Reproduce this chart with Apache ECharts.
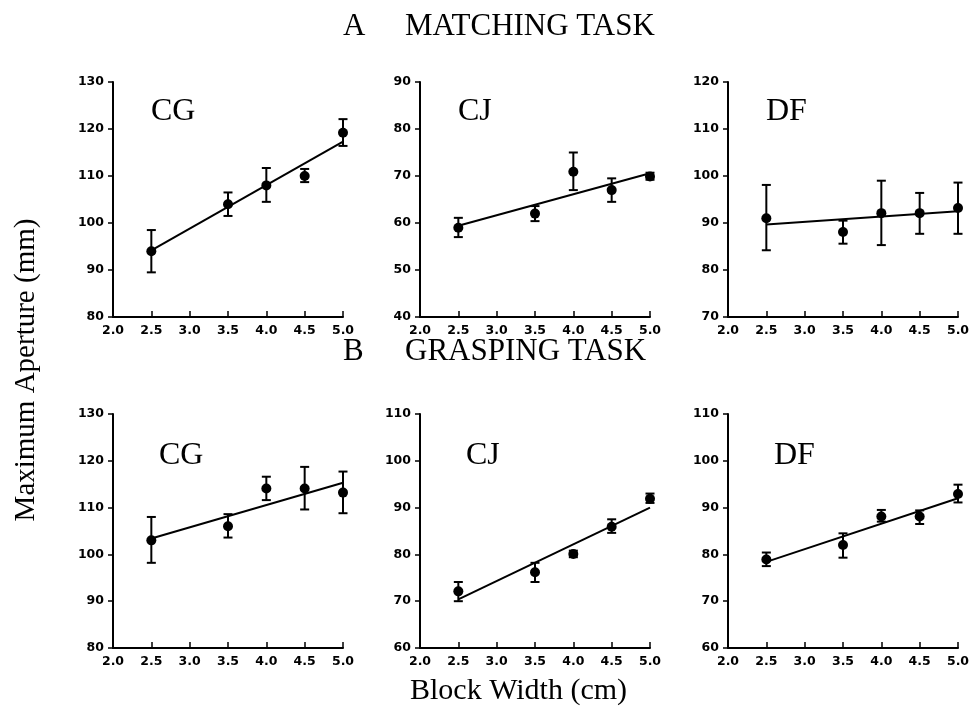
<!DOCTYPE html>
<html><head><meta charset="utf-8">
<script src="https://cdn.jsdelivr.net/npm/echarts@6/dist/echarts.min.js"></script>
<style>html,body{margin:0;padding:0;background:#fff}#c{width:979px;height:721px}</style>
</head><body><div id="c"></div>
<script>
// ---- data ----
const blockWidths = [2.5, 3.5, 4.0, 4.5, 5.0];
const fitX = [2.5, 5.0];

const matchCG_mean = [94, 104, 108, 110, 119.2];
const matchCG_lo   = [89.5, 101.5, 104.5, 108.7, 116.4];
const matchCG_hi   = [98.5, 106.5, 111.7, 111.5, 122.1];
const matchCG_fit  = [94.2, 117.3];

const matchCJ_mean = [59, 62, 70.9, 67, 69.9];
const matchCJ_lo   = [57, 60.4, 67, 64.5, 69.2];
const matchCJ_hi   = [61.1, 63.6, 75, 69.5, 70.7];
const matchCJ_fit  = [59.4, 70.6];

const matchDF_mean = [91, 88.1, 92.1, 92.1, 93.2];
const matchDF_lo   = [84.2, 85.6, 85.3, 87.7, 87.7];
const matchDF_hi   = [98.1, 90.5, 99, 96.4, 98.6];
const matchDF_fit  = [89.7, 92.5];

const graspCG_mean = [103, 106, 114.1, 114.1, 113.2];
const graspCG_lo   = [98.2, 103.6, 111.6, 109.6, 108.8];
const graspCG_hi   = [108, 108.6, 116.6, 118.7, 117.7];
const graspCG_fit  = [103.4, 115.3];

const graspCJ_mean = [72.1, 76.2, 80.1, 85.9, 91.9];
const graspCJ_lo   = [70, 74.1, 79.4, 84.6, 91];
const graspCJ_hi   = [74.1, 78.2, 80.8, 87.5, 93];
const graspCJ_fit  = [70.4, 90];

const graspDF_mean = [78.9, 82, 88.1, 88.1, 92.9];
const graspDF_lo   = [77.5, 79.3, 87, 86.5, 91.1];
const graspDF_hi   = [80.4, 84.5, 89.5, 89.4, 94.9];
const graspDF_fit  = [78.4, 92];

const subjects = ['CG', 'CJ', 'DF'];
const yRanges = [[80,130],[40,90],[70,120],[80,130],[60,110],[60,110]];
const xTickMin = 2.0, xTickMax = 5.0, xTickStep = 0.5;
const yTickStep = 10;

// ---- build ----
const panels = [
  [matchCG_mean, matchCG_lo, matchCG_hi, matchCG_fit],
  [matchCJ_mean, matchCJ_lo, matchCJ_hi, matchCJ_fit],
  [matchDF_mean, matchDF_lo, matchDF_hi, matchDF_fit],
  [graspCG_mean, graspCG_lo, graspCG_hi, graspCG_fit],
  [graspCJ_mean, graspCJ_lo, graspCJ_hi, graspCJ_fit],
  [graspDF_mean, graspDF_lo, graspDF_hi, graspDF_fit]
];
const lefts = [113, 420, 728];
const tops = [82, 414];
const heights = [235, 234];
const W = 230;
const tickFont = {fontFamily: 'DejaVu Sans', fontWeight: 'bold', fontSize: 12.5, color: '#000'};
const serif = 'Liberation Serif';

const grid = [], xAxis = [], yAxis = [], series = [], graphic = [];
panels.forEach((p, i) => {
  const r = Math.floor(i / 3), c = i % 3;
  grid.push({left: lefts[c], top: tops[r], width: W, height: heights[r]});
  xAxis.push({
    type: 'value', gridIndex: i, min: xTickMin, max: xTickMax, interval: xTickStep,
    axisLine: {lineStyle: {color: '#000', width: 2}},
    axisTick: {inside: true, length: 6, lineStyle: {color: '#000', width: 1.5}},
    splitLine: {show: false},
    axisLabel: Object.assign({margin: 7, formatter: v => v.toFixed(1)}, tickFont)
  });
  yAxis.push({
    type: 'value', gridIndex: i, min: yRanges[i][0], max: yRanges[i][1], interval: yTickStep,
    axisLine: {show: true, lineStyle: {color: '#000', width: 2}},
    axisTick: {show: true, inside: false, length: 5, lineStyle: {color: '#000', width: 1.5}},
    splitLine: {show: false},
    axisLabel: Object.assign({margin: 9}, tickFont)
  });
  const [mean, lo, hi, fit] = p;
  series.push({
    type: 'custom', xAxisIndex: i, yAxisIndex: i,
    data: blockWidths.map((x, k) => [x, lo[k], hi[k]]),
    encode: {x: 0, y: [1, 2]},
    renderItem: (params, api) => {
      const x = api.value(0);
      const a = api.coord([x, api.value(1)]);
      const b = api.coord([x, api.value(2)]);
      const w = 4.5;
      const st = {stroke: '#000', lineWidth: 2};
      return {type: 'group', children: [
        {type: 'line', shape: {x1: a[0], y1: a[1], x2: b[0], y2: b[1]}, style: st},
        {type: 'line', shape: {x1: a[0]-w, y1: a[1], x2: a[0]+w, y2: a[1]}, style: st},
        {type: 'line', shape: {x1: b[0]-w, y1: b[1], x2: b[0]+w, y2: b[1]}, style: st}
      ]};
    },
    z: 2, silent: true
  });
  series.push({
    type: 'line', xAxisIndex: i, yAxisIndex: i,
    data: fitX.map((x, k) => [x, fit[k]]),
    showSymbol: false, symbol: 'none',
    lineStyle: {color: '#000', width: 2}, z: 3, silent: true
  });
  series.push({
    type: 'scatter', xAxisIndex: i, yAxisIndex: i,
    data: blockWidths.map((x, k) => [x, mean[k]]),
    symbol: 'circle', symbolSize: 10,
    itemStyle: {color: '#000', opacity: 1}, z: 4, silent: true
  });
  graphic.push({
    type: 'text', left: lefts[c] + 38 + (r === 1 ? 8 : 0), top: tops[r] + 14 + (r === 1 ? 12 : 0),
    style: {text: subjects[c], font: '32px "' + serif + '"', fill: '#000'}
  });
});

graphic.push(
  {type: 'text', left: 343, top: 11, style: {text: 'A', font: '31px "' + serif + '"', fill: '#000'}},
  {type: 'text', left: 405, top: 11, style: {text: 'MATCHING TASK', font: '31px "' + serif + '"', fill: '#000'}},
  {type: 'text', left: 343, top: 336, style: {text: 'B', font: '31px "' + serif + '"', fill: '#000'}},
  {type: 'text', left: 405, top: 336, style: {text: 'GRASPING TASK', font: '31px "' + serif + '"', fill: '#000'}},
  {type: 'text', left: 410, top: 676, style: {text: 'Block Width (cm)', font: '30px "' + serif + '"', fill: '#000'}},
  {type: 'text', x: 26, y: 370, rotation: Math.PI / 2,
   style: {text: 'Maximum Aperture (mm)', font: '29px "' + serif + '"', fill: '#000', align: 'center', verticalAlign: 'middle'}}
);

const chart = echarts.init(document.getElementById('c'), null, {renderer: 'canvas'});
chart.setOption({
  backgroundColor: '#fff', animation: false,
  grid, xAxis, yAxis, series, graphic
});
</script>
</body></html>
